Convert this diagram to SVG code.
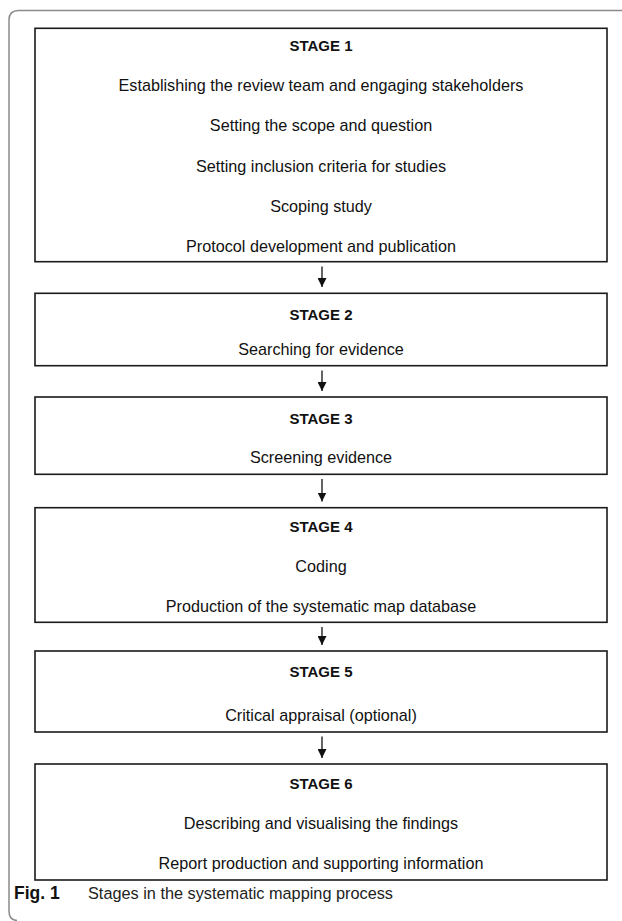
<svg xmlns="http://www.w3.org/2000/svg" width="622" height="921" viewBox="0 0 622 921">
<style>
.frame{fill:none;stroke:#8a8a8a;stroke-width:1.5}
.box{fill:#fff;stroke:#1a1a1a;stroke-width:1.6}
.t{font-family:"Liberation Sans",Arial,sans-serif;font-size:16.2px;fill:#111;text-anchor:middle}
.h{font-family:"Liberation Sans",Arial,sans-serif;font-size:15px;font-weight:bold;fill:#111;text-anchor:middle}
.cap{font-family:"Liberation Sans",Arial,sans-serif;font-size:16.3px;fill:#222}
.capb{font-weight:bold;fill:#111}
.conn{stroke:#111;stroke-width:1.3;fill:none}
</style>
<defs>
<marker id="ah" markerUnits="userSpaceOnUse" markerWidth="10" markerHeight="9" refX="9" refY="4.5" orient="auto" viewBox="0 0 10 9">
<path d="M0,0 L9,4.5 L0,9 z" fill="#111"/>
</marker>
</defs>
<rect width="622" height="921" fill="#fff"/>
<path class="frame" d="M622,10.5 H18.5 Q9,10.5 9,20 V911 Q9,920 17,920.5"/>
<g id="stage1">
<rect class="box" x="35" y="28.3" width="572" height="233.4"/>
<text class="h" x="321" y="51">STAGE 1</text>
<text class="t" x="321" y="91">Establishing the review team and engaging stakeholders</text>
<text class="t" x="321" y="131.3">Setting the scope and question</text>
<text class="t" x="321" y="171.6">Setting inclusion criteria for studies</text>
<text class="t" x="321" y="211.8">Scoping study</text>
<text class="t" x="321" y="252">Protocol development and publication</text>
</g>
<g id="stage2">
<rect class="box" x="35" y="293.3" width="572" height="72.4"/>
<text class="h" x="321" y="320">STAGE 2</text>
<text class="t" x="321" y="355">Searching for evidence</text>
</g>
<g id="stage3">
<rect class="box" x="35" y="397" width="572" height="77.3"/>
<text class="h" x="321" y="424">STAGE 3</text>
<text class="t" x="321" y="463">Screening evidence</text>
</g>
<g id="stage4">
<rect class="box" x="35" y="507.7" width="572" height="114.6"/>
<text class="h" x="321" y="532">STAGE 4</text>
<text class="t" x="321" y="572">Coding</text>
<text class="t" x="321" y="612">Production of the systematic map database</text>
</g>
<g id="stage5">
<rect class="box" x="35" y="651" width="572" height="81"/>
<text class="h" x="321" y="677">STAGE 5</text>
<text class="t" x="321" y="721">Critical appraisal (optional)</text>
</g>
<g id="stage6">
<rect class="box" x="35" y="764" width="572" height="116"/>
<text class="h" x="321" y="789">STAGE 6</text>
<text class="t" x="321" y="829">Describing and visualising the findings</text>
<text class="t" x="321" y="869">Report production and supporting information</text>
</g>
<g id="connectors">
<line class="conn" x1="322" y1="266.5" x2="322" y2="287" marker-end="url(#ah)"/>
<line class="conn" x1="322" y1="370.5" x2="322" y2="391" marker-end="url(#ah)"/>
<line class="conn" x1="322" y1="479" x2="322" y2="501.5" marker-end="url(#ah)"/>
<line class="conn" x1="322" y1="627" x2="322" y2="645" marker-end="url(#ah)"/>
<line class="conn" x1="322" y1="736.5" x2="322" y2="758" marker-end="url(#ah)"/>
</g>
<g id="caption">
<text class="cap" x="14" y="899"><tspan class="capb" font-size="17.5">Fig. 1</tspan><tspan x="88">Stages in the systematic mapping process</tspan></text>
</g>
</svg>
